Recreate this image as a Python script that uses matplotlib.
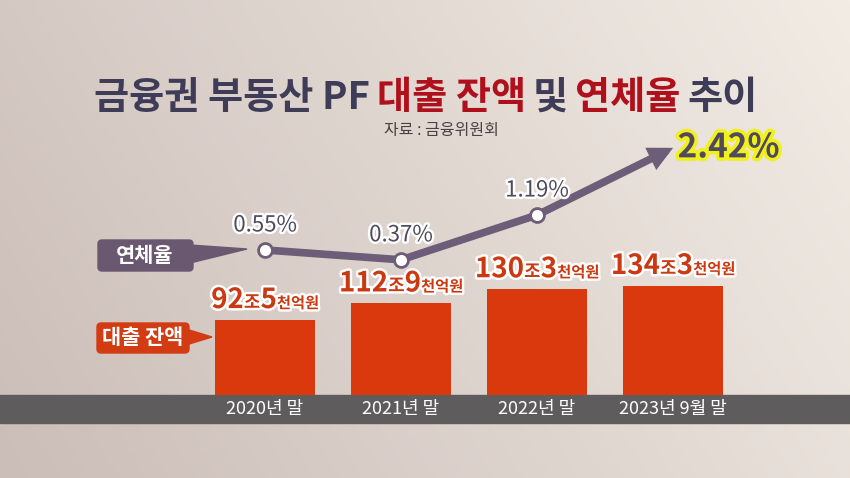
import numpy as np
import matplotlib
matplotlib.use("Agg")
import matplotlib.pyplot as plt
import matplotlib.patheffects as pe
from matplotlib.patches import Polygon, FancyBboxPatch, Rectangle
from matplotlib.offsetbox import TextArea, HPacker, AnnotationBbox

plt.rcParams['font.family'] = ['Noto Sans CJK KR', 'DejaVu Sans']

# data
periods = ['2020년 말', '2021년 말', '2022년 말', '2023년 9월 말']
loan_balance = [92.5, 112.9, 130.3, 134.3]          # 조원
loan_parts = [('92', '5'), ('112', '9'), ('130', '3'), ('134', '3')]
delinq_rate = [0.55, 0.37, 1.19, 2.42]               # %
rate_labels = ['0.55%', '0.37%', '1.19%', '2.42%']

W, H = 850, 478
fig = plt.figure(figsize=(W / 100, H / 100), dpi=100)

# background (pixel coords, origin top-left)
bg = fig.add_axes([0, 0, 1, 1])
bg.set_xlim(0, W)
bg.set_ylim(H, 0)
bg.axis('off')
gx = np.linspace(0, 1, 200)
gy = np.linspace(0, 1, 120)
GX, GY = np.meshgrid(gx, gy)
left = np.array([203, 189, 184]) / 255
right = np.array([242, 236, 229]) / 255
t = np.clip(0.75 * GX + 0.25 * (1 - GY), 0, 1)[..., None]
img = left * (1 - t) + right * t
bg.imshow(img, extent=(0, W, H, 0), aspect='auto', zorder=0)
bg.add_patch(Rectangle((0, 395), W, 28, color='#5e5c5c', zorder=1))

# title
pieces = [('금융권 부동산 PF', '#3f3c57'), ('대출 잔액', '#b0101c'),
          ('및', '#3f3c57'), ('연체율', '#b0101c'), ('추이', '#3f3c57')]
areas = [TextArea(s, textprops=dict(color=c, fontsize=27.5, fontweight='bold'))
         for s, c in pieces]
title = HPacker(children=areas, align='baseline', pad=0, sep=5)
bg.add_artist(AnnotationBbox(title, (426, 97), xycoords='data',
                             box_alignment=(0.5, 0.5), frameon=False))
bg.text(441, 131, '자료 : 금융위원회', ha='center', va='center',
        fontsize=11.5, color='#454343')

# legend-like callout boxes
purple = '#6a5870'
bg.add_patch(FancyBboxPatch((98, 240), 95, 31, boxstyle='round,pad=0,rounding_size=4',
                            color=purple, zorder=3))
bg.add_patch(Polygon([(190, 245), (247, 249), (190, 263)], color=purple, zorder=3))
bg.text(145, 256, '연체율', ha='center', va='center', color='white',
        fontsize=15, fontweight='bold', zorder=4)
orange = '#d33c12'
bg.add_patch(FancyBboxPatch((97, 323), 92, 30, boxstyle='round,pad=0,rounding_size=4',
                            color=orange, zorder=3))
bg.add_patch(Polygon([(186, 329), (212, 337), (186, 345)], color=orange, zorder=3))
bg.text(143, 338, '대출 잔액', ha='center', va='center', color='white',
        fontsize=15, fontweight='bold', zorder=4)

# bars
x = np.arange(len(periods))
ax = fig.add_axes([0, 0, 1, 1])
ax.patch.set_visible(False)
ax.set_xlim(-1.949, 4.301)
ax.set_ylim(-101.8, 484.7)
ax.axis('off')
ax.bar(x, loan_balance, width=0.735, color='#d9390c', zorder=2)
for xi, name in zip(x, periods):
    ax.text(xi, -17.5, name, ha='center', va='center', color='white', fontsize=13)

red = '#cc3810'
stroke = [pe.withStroke(linewidth=3.5, foreground='white')]
for xi, val, (big, small) in zip(x, loan_balance, loan_parts):
    kids = [TextArea(big, textprops=dict(fontsize=20, fontweight='bold', color=red, path_effects=stroke)),
            TextArea('조', textprops=dict(fontsize=13, fontweight='bold', color=red, path_effects=stroke)),
            TextArea(small, textprops=dict(fontsize=20, fontweight='bold', color=red, path_effects=stroke)),
            TextArea('천억원', textprops=dict(fontsize=11, fontweight='bold', color=red, path_effects=stroke))]
    box = HPacker(children=kids, align='baseline', pad=0, sep=0)
    ax.add_artist(AnnotationBbox(box, (xi, val), xybox=(0, 4), xycoords='data',
                                 boxcoords='offset points', box_alignment=(0.5, 0),
                                 frameon=False))

# delinquency line
ax2 = fig.add_axes([0, 0, 1, 1])
ax2.patch.set_visible(False)
ax2.set_xlim(-1.949, 4.301)
ax2.set_ylim(-3.626, 5.128)
ax2.axis('off')
line_col = '#6d5d78'
ax2.plot(x[:3], delinq_rate[:3], color=line_col, lw=5.5, solid_capstyle='butt', zorder=3)
ax2.annotate('', xy=(x[3], delinq_rate[3]), xytext=(x[2], delinq_rate[2]),
             arrowprops=dict(arrowstyle='-|>,head_length=0.9,head_width=0.45',
                             lw=5.5, color=line_col, shrinkA=0, shrinkB=0,
                             joinstyle='miter'), zorder=3)
ax2.plot(x[:3], delinq_rate[:3], 'o', ms=10, mfc='white', mec=line_col, mew=2, zorder=4)
lab_stroke = [pe.withStroke(linewidth=3.5, foreground='white')]
for xi, v, s in zip(x[:3], delinq_rate[:3], rate_labels[:3]):
    ax2.annotate(s, (xi, v), xytext=(0, 18), textcoords='offset points',
                 ha='center', va='center', fontsize=16, color='#4f4a5e',
                 path_effects=lab_stroke, zorder=5)
ax2.annotate(rate_labels[3], (x[3], delinq_rate[3]), xytext=(40, 0),
             textcoords='offset points', ha='center', va='center',
             fontsize=24, fontweight='bold', color='#4f4a5e',
             path_effects=[pe.withStroke(linewidth=5, foreground='#f2f01c')], zorder=5)

fig.savefig('out.png', dpi=100)
